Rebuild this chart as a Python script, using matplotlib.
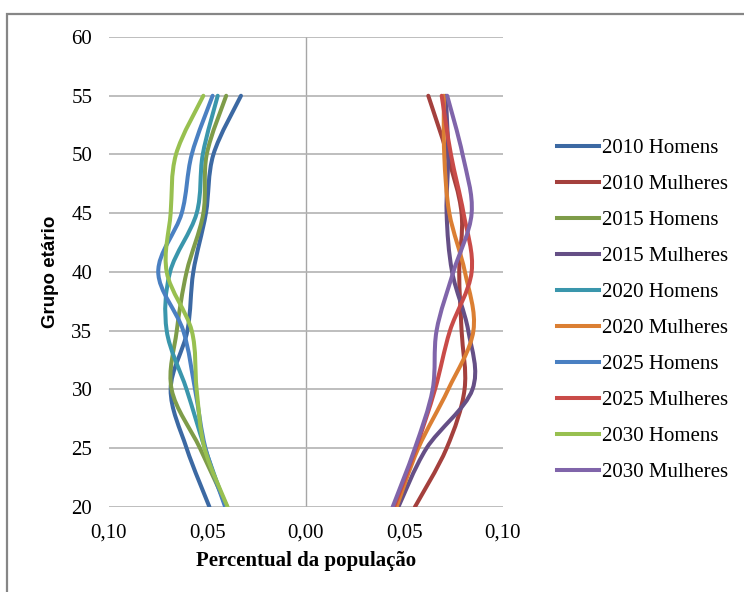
import numpy as np
import matplotlib
matplotlib.use("Agg")
import matplotlib.pyplot as plt
from matplotlib.path import Path
from matplotlib.patches import PathPatch, Rectangle
from matplotlib.lines import Line2D
from matplotlib.ticker import FuncFormatter

plt.rcParams["font.family"] = ["Liberation Serif", "DejaVu Serif"]

# Age groups (y axis) and share of the population per series
ages = [20, 25, 30, 35, 40, 45, 50, 55]

homens_2010 = [0.0490, 0.0606, 0.0687, 0.0602, 0.0572, 0.0508, 0.0470, 0.0330]
mulheres_2010 = [0.0553, 0.0714, 0.0805, 0.0790, 0.0778, 0.0790, 0.0717, 0.0621]
homens_2015 = [0.0400, 0.0538, 0.0682, 0.0656, 0.0606, 0.0521, 0.0504, 0.0405]
mulheres_2015 = [0.0469, 0.0612, 0.0845, 0.0824, 0.0742, 0.0714, 0.0722, 0.0710]
homens_2020 = [0.0406, 0.0513, 0.0606, 0.0707, 0.0690, 0.0555, 0.0524, 0.0448]
mulheres_2020 = [0.0460, 0.0570, 0.0722, 0.0850, 0.0807, 0.0728, 0.0702, 0.0700]
homens_2025 = [0.0410, 0.0510, 0.0563, 0.0623, 0.0750, 0.0631, 0.0580, 0.0474]
mulheres_2025 = [0.0447, 0.0558, 0.0655, 0.0731, 0.0841, 0.0800, 0.0736, 0.0689]
homens_2030 = [0.0398, 0.0515, 0.0555, 0.0580, 0.0707, 0.0687, 0.0660, 0.0521]
mulheres_2030 = [0.0440, 0.0553, 0.0643, 0.0663, 0.0748, 0.0841, 0.0795, 0.0717]

labels = ["2010 Homens", "2010 Mulheres", "2015 Homens", "2015 Mulheres",
          "2020 Homens", "2020 Mulheres", "2025 Homens", "2025 Mulheres",
          "2030 Homens", "2030 Mulheres"]
colors = ["#3C69A3", "#A4403D", "#7E9C49", "#654F86", "#3A96AC",
          "#DB7F33", "#4A80C2", "#C94B48", "#98C050", "#8065AA"]
x_ticks = [-0.10, -0.05, 0.00, 0.05, 0.10]
y_ticks = [20, 25, 30, 35, 40, 45, 50, 55, 60]

series = [homens_2010, mulheres_2010, homens_2015, mulheres_2015,
          homens_2020, mulheres_2020, homens_2025, mulheres_2025,
          homens_2030, mulheres_2030]


def smooth_path(xs, ys):
    # cubic Bezier through the points, control points Catmull-Rom style
    pts = np.column_stack([xs, ys])
    n = len(pts)
    verts = [pts[0]]
    codes = [Path.MOVETO]
    for i in range(n - 1):
        p0 = pts[max(i - 1, 0)]
        p1 = pts[i]
        p2 = pts[i + 1]
        p3 = pts[min(i + 2, n - 1)]
        verts += [p1 + (p2 - p0) / 6, p2 - (p3 - p1) / 6, p2]
        codes += [Path.CURVE4] * 3
    return Path(verts, codes)


fig = plt.figure(figsize=(7.44, 5.92), dpi=100)
ax = fig.add_axes([0.1465, 0.1436, 0.5295, 0.7939])

for label, vals, color in zip(labels, series, colors):
    sign = -1 if "Homens" in label else 1
    xs = [sign * v for v in vals]
    ax.add_patch(PathPatch(smooth_path(xs, ages), fill=False,
                           edgecolor=color, lw=2.9, capstyle="round", zorder=3))

ax.set_xlim(-0.10, 0.10)
ax.set_ylim(20, 60)
ax.set_xticks(x_ticks)
ax.set_yticks(y_ticks)
ax.xaxis.set_major_formatter(FuncFormatter(lambda v, p: f"{abs(v):.2f}".replace(".", ",")))
ax.tick_params(length=0, labelsize=15, colors="black")
ax.tick_params(axis="x", pad=12)
ax.tick_params(axis="y", pad=12)
for s in ax.spines.values():
    s.set_visible(False)
ax.grid(axis="y", color="#B3B3B3", lw=1.2, zorder=0)
ax.axvline(0, color="#A6A6A6", lw=1.0, zorder=1)

ax.set_xlabel("Percentual da população", fontsize=15, fontweight="bold", labelpad=6)
ax.set_ylabel("Grupo etário", fontsize=13.5, fontweight="bold", labelpad=9,
              family=["Liberation Sans", "DejaVu Sans"])

handles = [Line2D([], [], color=c, lw=2.9) for c in colors]
fig.legend(handles, labels, loc="upper left", bbox_to_anchor=(0.749, 0.766),
           frameon=False, fontsize=15, handlelength=2.0, handletextpad=0.15,
           labelspacing=0.79, borderpad=0, borderaxespad=0)

fig.patches.append(Rectangle((7 / 744, -0.05), 1.1, 1 - 14 / 592 + 0.05,
                             transform=fig.transFigure, fill=False,
                             edgecolor="#868686", lw=1.6))

fig.savefig("out.png", dpi=100)
